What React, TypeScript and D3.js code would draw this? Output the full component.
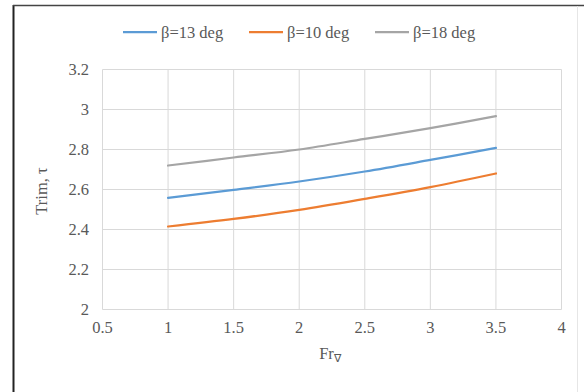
import React, { useEffect, useRef } from 'react';
import * as d3 from 'd3';

const froude = [1, 1.5, 2, 2.5, 3, 3.5];
const beta13 = [2.558, 2.598, 2.64, 2.69, 2.748, 2.808];
const beta10 = [2.415, 2.453, 2.498, 2.553, 2.612, 2.68];
const beta18 = [2.72, 2.76, 2.80, 2.853, 2.907, 2.967];
const xTicks = [0.5, 1, 1.5, 2, 2.5, 3, 3.5, 4];
const yTicks = [2, 2.2, 2.4, 2.6, 2.8, 3, 3.2];

const series = [
  { name: 'β=13 deg', values: beta13, color: '#5B9BD5' },
  { name: 'β=10 deg', values: beta10, color: '#ED7D31' },
  { name: 'β=18 deg', values: beta18, color: '#A5A5A5' },
];

const App = () => {
  const ref = useRef<SVGSVGElement>(null);

  useEffect(() => {
    const svg = d3.select(ref.current);
    svg.selectAll('*').remove();
    const font = '"Liberation Serif", "Times New Roman", Times, serif';
    const fs = 16.5;

    svg.append('rect').attr('width', 584).attr('height', 392).attr('fill', '#fff');
    // frame
    svg.append('line').attr('x1', 13.5).attr('x2', 13.5).attr('y1', 5).attr('y2', 392)
      .attr('stroke', '#222').attr('stroke-width', 2);
    svg.append('line').attr('x1', 13).attr('x2', 584).attr('y1', 5.5).attr('y2', 5.5)
      .attr('stroke', '#444').attr('stroke-width', 1.5);
    svg.append('line').attr('x1', 577.5).attr('x2', 577.5).attr('y1', 6).attr('y2', 392)
      .attr('stroke', '#e6e6e6');

    const x = d3.scaleLinear().domain([0.5, 4]).range([102.5, 561.5]);
    const y = d3.scaleLinear().domain([2, 3.2]).range([309.5, 69.5]);

    const g = svg.append('g').style('font-family', font);
    g.selectAll('.vg').data(xTicks).enter().append('line')
      .attr('x1', d => x(d)).attr('x2', d => x(d))
      .attr('y1', y(3.2)).attr('y2', y(2))
      .attr('stroke', '#D9D9D9');
    g.selectAll('.hg').data(yTicks).enter().append('line')
      .attr('x1', x(0.5)).attr('x2', x(4))
      .attr('y1', d => y(d)).attr('y2', d => y(d))
      .attr('stroke', '#D9D9D9');

    g.selectAll('.xt').data(xTicks).enter().append('text')
      .attr('x', d => x(d)).attr('y', 333)
      .attr('text-anchor', 'middle')
      .attr('font-size', fs).attr('fill', '#595959')
      .text(d => String(d));
    g.selectAll('.yt').data(yTicks).enter().append('text')
      .attr('x', 89).attr('y', d => y(d) + 5.5)
      .attr('text-anchor', 'end')
      .attr('font-size', fs).attr('fill', '#595959')
      .text(d => String(d));

    const line = d3.line<number>()
      .x((_, i) => x(froude[i]))
      .y(d => y(d))
      .curve(d3.curveCatmullRom);

    series.forEach(s => {
      g.append('path').datum(s.values).attr('d', line)
        .attr('fill', 'none').attr('stroke', s.color).attr('stroke-width', 2.25)
        .attr('stroke-linecap', 'round');
    });

    // legend
    const legendX = [123, 249, 375];
    series.forEach((s, i) => {
      g.append('line').attr('x1', legendX[i]).attr('x2', legendX[i] + 34)
        .attr('y1', 32).attr('y2', 32).attr('stroke', s.color).attr('stroke-width', 2.25);
      g.append('text').attr('x', legendX[i] + 38).attr('y', 37.5)
        .attr('font-size', fs).attr('fill', '#595959')
        .text(s.name);
    });

    // axis titles
    const xt = g.append('text').attr('x', 330).attr('y', 359).attr('text-anchor', 'middle')
      .attr('font-size', fs).attr('fill', '#595959');
    xt.append('tspan').text('Fr');
    xt.append('tspan').attr('font-size', 11).attr('dy', 3).text('∇');

    g.append('text').attr('transform', 'translate(47,191) rotate(-90)')
      .attr('text-anchor', 'middle')
      .attr('font-size', fs).attr('fill', '#595959')
      .text('Trim, τ');
  }, []);

  return (
    <svg ref={ref} width={584} height={392} style={{ position: 'absolute', left: 0, top: 0 }} />
  );
};

export default App;
